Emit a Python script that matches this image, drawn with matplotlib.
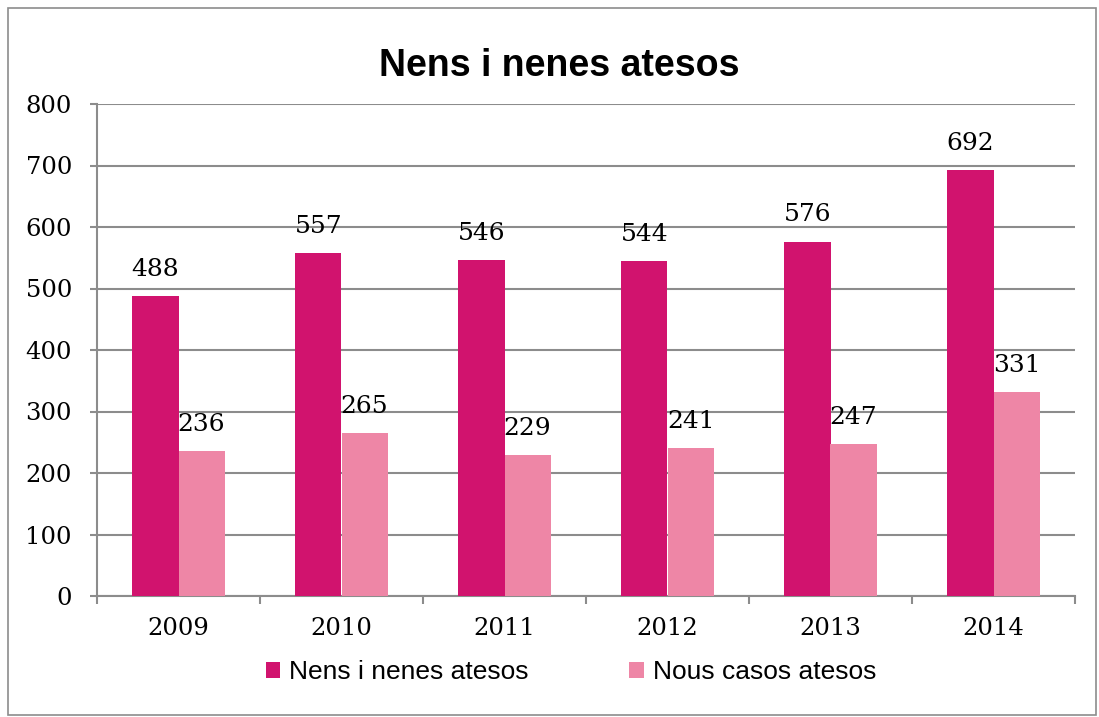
import numpy as np
import matplotlib.pyplot as plt
from matplotlib.patches import Rectangle

# --- data ---
years = ['2009', '2010', '2011', '2012', '2013', '2014']
nens_atesos = [488, 557, 546, 544, 576, 692]
nous_casos = [236, 265, 229, 241, 247, 331]

C_NENS = '#D1136E'
C_NOUS = '#EE86A6'
GRID = '#8C8C8C'
SERIF = ['DejaVu Serif']
SANS = ['Liberation Sans', 'DejaVu Sans']

fig = plt.figure(figsize=(10.99, 7.17), dpi=100)
W, H = 1099, 717
ax = fig.add_axes([97 / W, 1 - 596 / H, (1075 - 97) / W, (596 - 104) / H])

# outer chart border
fig.patches.append(Rectangle((8 / W, 2 / H), 1088 / W, (715 - 8) / H,
                             transform=fig.transFigure, fill=False,
                             edgecolor='#8C8C8C', linewidth=1.2))

x = np.arange(len(years))
bw = 0.283
b1 = ax.bar(x - bw / 2, nens_atesos, bw, color=C_NENS, label='Nens i nenes atesos', zorder=3)
b2 = ax.bar(x + bw / 2, nous_casos, bw, color=C_NOUS, label='Nous casos atesos', zorder=3)

for bars in (b1, b2):
    for r in bars:
        ax.annotate(f'{int(r.get_height())}', (r.get_x() + r.get_width() / 2, r.get_height()),
                    xytext=(0, 11), textcoords='offset points', ha='center', va='bottom',
                    fontsize=18, family=SERIF)

ax.set_xlim(-0.5, len(years) - 0.5)
ax.set_ylim(0, 800)
ax.set_yticks(range(0, 801, 100))
ax.set_xticks(x)
ax.set_xticklabels(years)
ax.set_xticks(np.arange(-0.5, len(years)), minor=True)
ax.tick_params(axis='x', which='major', length=0, pad=15)
ax.tick_params(axis='x', which='minor', length=6, width=1.5, color=GRID)
ax.tick_params(axis='y', length=5, width=1.5, color=GRID, pad=13)
for lab in ax.get_xticklabels() + ax.get_yticklabels():
    lab.set_fontfamily(SERIF)
    lab.set_fontsize(17.5)

ax.grid(axis='y', color=GRID, linewidth=1.5, zorder=0)
for s in ['top', 'right']:
    ax.spines[s].set_visible(False)
for s in ['left', 'bottom']:
    ax.spines[s].set_color(GRID)
    ax.spines[s].set_linewidth(1.5)

fig.text(559 / W, 1 - 66 / H, 'Nens i nenes atesos', ha='center', va='center',
         fontsize=27, fontweight='bold', family=SANS)

fig.legend(handles=[b1, b2], loc='center', bbox_to_anchor=(571 / W, 1 - 672 / H), ncol=2,
           frameon=False, prop={'family': SANS, 'size': 19}, handlelength=0.55,
           handleheight=0.55, handletextpad=0.35, columnspacing=3.8)

fig.savefig('out.png', dpi=100)
